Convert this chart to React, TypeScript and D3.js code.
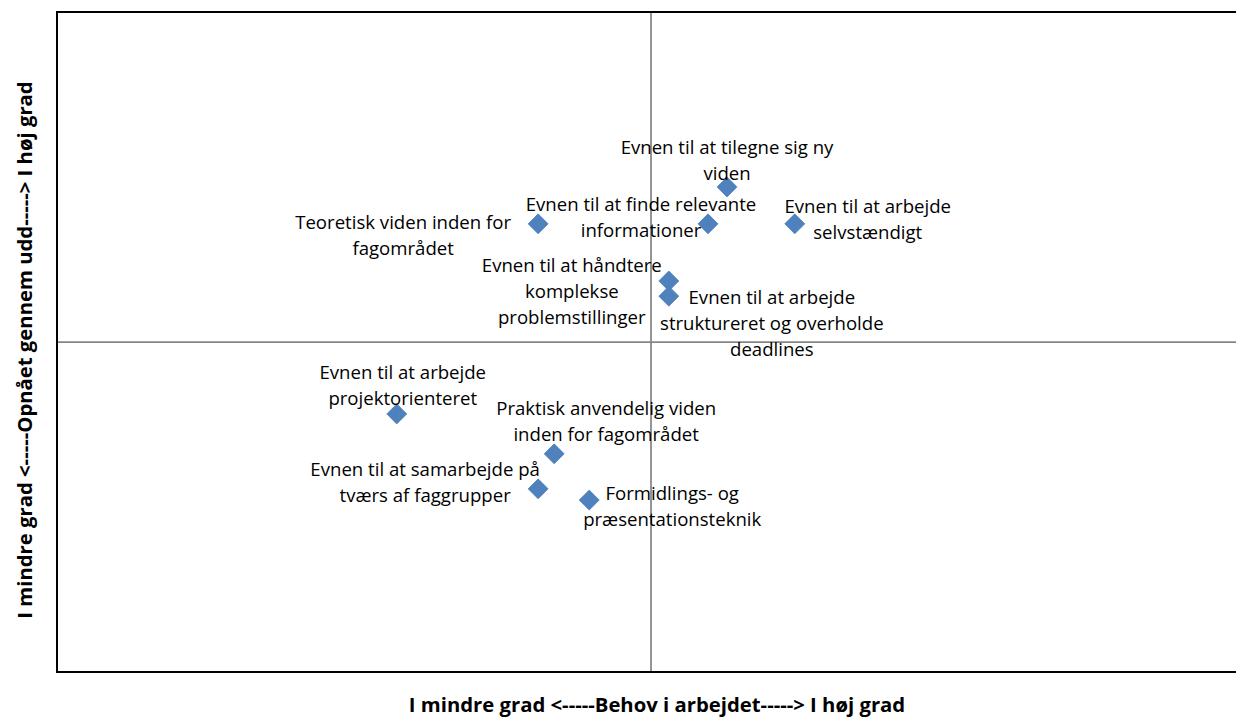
import React from "react";
import * as d3 from "d3";

const skills: string[][] = [
  ["Evnen til at tilegne sig ny", "viden"],
  ["Evnen til at finde relevante", "informationer"],
  ["Evnen til at arbejde", "selvstændigt"],
  ["Teoretisk viden inden for", "fagområdet"],
  ["Evnen til at håndtere", "komplekse", "problemstillinger"],
  ["Evnen til at arbejde", "struktureret og overholde", "deadlines"],
  ["Evnen til at arbejde", "projektorienteret"],
  ["Praktisk anvendelig viden", "inden for fagområdet"],
  ["Evnen til at samarbejde på", "tværs af faggrupper"],
  ["Formidlings- og", "præsentationsteknik"],
];
const needValues = [0.128, 0.096, 0.242, -0.19, 0.03, 0.03, -0.428, -0.163, -0.19, -0.104];
const achievedValues = [0.47, 0.358, 0.358, 0.358, 0.185, 0.139, -0.218, -0.339, -0.445, -0.479];

// label placement offsets (dx of text centre, dy of first line baseline) relative to marker
const labelOffsets: [number, number][] = [
  [0, -33],
  [-67, -13],
  [73, -11],
  [-135, 5],
  [-97, -9],
  [103, 8],
  [6, -35],
  [52, -39],
  [-113, -13],
  [83, 0],
];

const xTitle = "I mindre grad <-----Behov i arbejdet-----> I høj grad";
const yTitle = "I mindre grad <-----Opnået gennem udd-----> I høj grad";

export default function App() {
  const W = 1236, H = 717;
  const left = 57, right = 1245, top = 12, bottom = 672;
  const x = d3.scaleLinear().domain([-1, 1]).range([left, right]);
  const y = d3.scaleLinear().domain([-1, 1]).range([bottom, top]);
  const font = "'Open Sans', sans-serif";
  const lineH = 26;
  return (
    <svg width={W} height={H} style={{ position: "absolute", left: 0, top: 0 }}>
      <rect x={0} y={0} width={W} height={H} fill="#fff" />
      <line x1={x(0)} x2={x(0)} y1={top} y2={bottom} stroke="#868686" strokeWidth={1.75} />
      <line x1={left} x2={right} y1={y(0)} y2={y(0)} stroke="#868686" strokeWidth={1.75} />
      <rect x={left} y={top} width={right - left} height={bottom - top} fill="none" stroke="#000" strokeWidth={2} />
      {needValues.map((v, i) => {
        const cx = x(v), cy = y(achievedValues[i]);
        const r = 10;
        return (
          <path key={"m" + i}
            d={`M${cx},${cy - r}L${cx + r},${cy}L${cx},${cy + r}L${cx - r},${cy}Z`}
            fill="#4F81BD" stroke="#4A7EBB" strokeWidth={0.75} />
        );
      })}
      {skills.map((lines, i) => {
        const cx = x(needValues[i]) + labelOffsets[i][0];
        const cy = y(achievedValues[i]) + labelOffsets[i][1];
        return (
          <text key={"l" + i} x={cx} y={cy} textAnchor="middle" fontFamily={font} fontSize={18.6} fill="#000">
            {lines.map((ln, j) => (
              <tspan key={j} x={cx} y={cy + j * lineH}>{ln}</tspan>
            ))}
          </text>
        );
      })}
      <text x={657} y={712} textAnchor="middle" fontFamily={font} fontWeight="bold" fontSize={20.3}>{xTitle}</text>
      <text transform={`translate(32,350) rotate(-90)`} textAnchor="middle" fontFamily={font} fontWeight="bold" fontSize={20.3}>{yTitle}</text>
    </svg>
  );
}
